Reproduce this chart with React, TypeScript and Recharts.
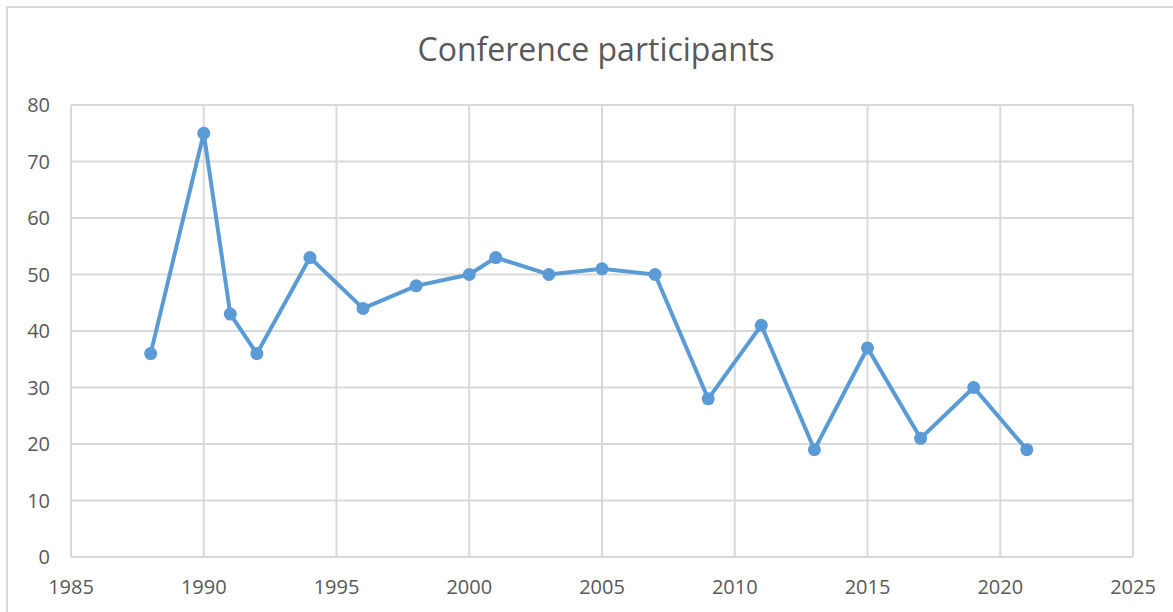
import React from "react";
import { LineChart, Line, XAxis, YAxis, CartesianGrid } from "recharts";

const years = [1988, 1990, 1991, 1992, 1994, 1996, 1998, 2000, 2001, 2003, 2005, 2007, 2009, 2011, 2013, 2015, 2017, 2019, 2021];
const participants = [36, 75, 43, 36, 53, 44, 48, 50, 53, 50, 51, 50, 28, 41, 19, 37, 21, 30, 19];
const xTicks = [1985, 1990, 1995, 2000, 2005, 2010, 2015, 2020, 2025];
const yTicks = [0, 10, 20, 30, 40, 50, 60, 70, 80];
const title = "Conference participants";

const data = years.map((y, i) => ({ year: y, value: participants[i] }));

const FONT = "'Open Sans', 'Noto Sans', sans-serif";
const TEXT = "#595959";
const GRID = "#d9d9d9";
const LINE = "#5b9bd5";

export default function App() {
  return (
    <div style={{ position: "absolute", left: 0, top: 0, width: 1173, height: 612, overflow: "hidden", background: "#fff" }}>
      <div style={{ position: "absolute", left: 6, top: 6, width: 1300, height: 800, border: `2px solid ${GRID}`, boxSizing: "border-box" }} />
      <div style={{ position: "absolute", left: 0, top: 29, width: 1192, textAlign: "center", fontFamily: FONT, fontSize: 32, color: TEXT, lineHeight: "40px" }}>
        {title}
      </div>
      <div style={{ position: "absolute", left: 0, top: 0 }}>
        <LineChart width={1173} height={612} data={data} margin={{ top: 105, right: 40, bottom: 0, left: 0 }}>
          <CartesianGrid stroke={GRID} strokeWidth={2} />
          <XAxis
            dataKey="year"
            type="number"
            domain={[1985, 2025]}
            ticks={xTicks}
            interval={0}
            tickLine={false}
            tickSize={0}
            tickMargin={23}
            height={55}
            axisLine={{ stroke: GRID, strokeWidth: 2 }}
            tick={{ fill: TEXT, fontSize: 20, fontFamily: FONT }}
          />
          <YAxis
            type="number"
            domain={[0, 80]}
            ticks={yTicks}
            interval={0}
            width={71}
            tickLine={false}
            tickSize={0}
            tickMargin={21}
            axisLine={{ stroke: GRID, strokeWidth: 2 }}
            tick={{ fill: TEXT, fontSize: 20, fontFamily: FONT }}
          />
          <Line
            type="linear"
            dataKey="value"
            stroke={LINE}
            strokeWidth={4}
            dot={{ r: 6.5, fill: LINE, stroke: LINE, strokeWidth: 0 }}
            activeDot={false}
            isAnimationActive={false}
          />
        </LineChart>
      </div>
    </div>
  );
}
